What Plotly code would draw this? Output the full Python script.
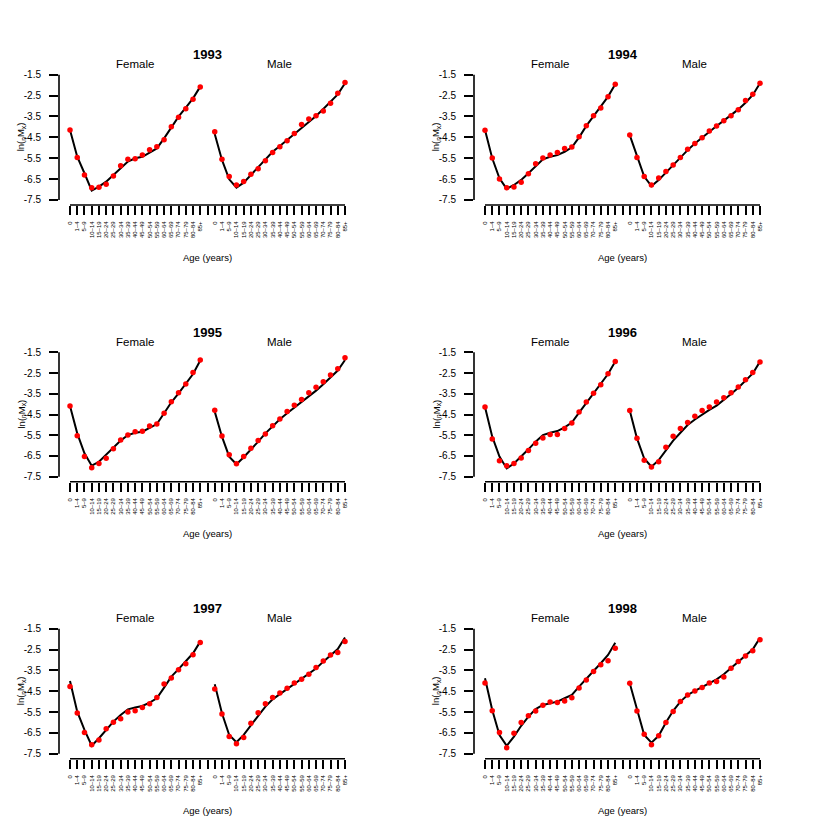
import plotly.graph_objects as go

ages = ["0", "1–4", "5–9", "10–14", "15–19", "20–24", "25–29", "30–34", "35–39",
        "40–44", "45–49", "50–54", "55–59", "60–64", "65–69", "70–74", "75–79",
        "80–84", "85+"]
years = ["1993", "1994", "1995", "1996", "1997", "1998"]
y_ticks = [-7.5, -6.5, -5.5, -4.5, -3.5, -2.5, -1.5]
y_ticklabels = ["-7.5", "-6.5", "-5.5", "-4.5", "-3.5", "-2.5", "-1.5"]

# observed (points) and fitted (line) log death rates
f1993_obs = [-4.15, -5.47, -6.30, -6.91, -6.89, -6.75, -6.35, -5.86, -5.55, -5.52, -5.35, -5.09, -4.95, -4.61, -3.99, -3.54, -3.13, -2.68, -2.09]
f1993_fit = [-4.15, -5.43, -6.22, -7.05, -6.86, -6.62, -6.30, -5.98, -5.66, -5.50, -5.43, -5.23, -5.03, -4.55, -4.02, -3.51, -3.08, -2.63, -2.07]
m1993_obs = [-4.23, -5.55, -6.38, -6.78, -6.62, -6.27, -6.00, -5.62, -5.22, -4.95, -4.66, -4.32, -3.88, -3.62, -3.46, -3.24, -2.87, -2.39, -1.87]
m1993_fit = [-4.34, -5.58, -6.51, -6.91, -6.67, -6.30, -5.94, -5.55, -5.19, -4.91, -4.63, -4.34, -4.05, -3.78, -3.48, -3.14, -2.79, -2.44, -1.91]

f1994_obs = [-4.16, -5.49, -6.49, -6.91, -6.88, -6.65, -6.24, -5.76, -5.49, -5.35, -5.23, -5.04, -4.96, -4.47, -3.94, -3.46, -3.10, -2.55, -1.96]
f1994_fit = [-4.15, -5.50, -6.46, -6.97, -6.78, -6.54, -6.22, -5.87, -5.55, -5.43, -5.35, -5.19, -4.98, -4.50, -3.95, -3.48, -3.03, -2.55, -1.96]
m1994_obs = [-4.39, -5.47, -6.38, -6.78, -6.45, -6.14, -5.82, -5.46, -5.07, -4.79, -4.52, -4.20, -3.96, -3.70, -3.46, -3.18, -2.74, -2.43, -1.91]
m1994_fit = [-4.39, -5.43, -6.38, -6.83, -6.54, -6.19, -5.82, -5.46, -5.11, -4.79, -4.50, -4.22, -3.96, -3.70, -3.45, -3.16, -2.84, -2.47, -1.91]

f1995_obs = [-4.09, -5.52, -6.53, -7.07, -6.86, -6.61, -6.15, -5.73, -5.49, -5.33, -5.31, -5.05, -4.96, -4.44, -3.88, -3.45, -3.03, -2.47, -1.87]
f1995_fit = [-4.09, -5.41, -6.37, -6.97, -6.78, -6.45, -6.13, -5.76, -5.49, -5.38, -5.33, -5.14, -4.96, -4.44, -3.91, -3.48, -3.03, -2.55, -1.90]
m1995_obs = [-4.30, -5.54, -6.44, -6.87, -6.53, -6.13, -5.75, -5.44, -5.04, -4.72, -4.36, -4.06, -3.78, -3.45, -3.19, -2.92, -2.59, -2.29, -1.76]
m1995_fit = [-4.36, -5.57, -6.53, -6.90, -6.56, -6.21, -5.81, -5.41, -5.06, -4.73, -4.44, -4.17, -3.91, -3.64, -3.35, -3.04, -2.72, -2.38, -1.87]

f1996_obs = [-4.14, -5.68, -6.73, -6.97, -6.86, -6.60, -6.23, -5.89, -5.63, -5.46, -5.46, -5.17, -4.91, -4.38, -3.90, -3.48, -3.06, -2.53, -1.95]
f1996_fit = [-4.14, -5.57, -6.53, -7.10, -6.86, -6.53, -6.18, -5.81, -5.49, -5.38, -5.30, -5.12, -4.89, -4.41, -3.93, -3.45, -3.03, -2.55, -1.95]
m1996_obs = [-4.31, -5.65, -6.71, -7.03, -6.78, -6.08, -5.55, -5.18, -4.88, -4.59, -4.31, -4.14, -3.90, -3.69, -3.45, -3.17, -2.82, -2.48, -1.97]
m1996_fit = [-4.31, -5.65, -6.62, -7.02, -6.70, -6.21, -5.76, -5.38, -5.01, -4.74, -4.49, -4.28, -4.07, -3.80, -3.51, -3.21, -2.87, -2.52, -1.95]

f1997_obs = [-4.28, -5.55, -6.48, -7.07, -6.84, -6.30, -5.99, -5.82, -5.50, -5.44, -5.28, -5.10, -4.80, -4.16, -3.87, -3.47, -3.18, -2.75, -2.16]
f1997_fit = [-4.01, -5.48, -6.36, -7.12, -6.76, -6.36, -5.96, -5.64, -5.37, -5.28, -5.21, -5.05, -4.84, -4.33, -3.80, -3.44, -3.08, -2.68, -2.12]
m1997_obs = [-4.40, -5.60, -6.67, -7.02, -6.72, -6.04, -5.53, -5.10, -4.80, -4.59, -4.36, -4.11, -3.93, -3.69, -3.36, -3.05, -2.76, -2.64, -2.12]
m1997_fit = [-4.17, -5.56, -6.60, -6.95, -6.60, -6.12, -5.68, -5.24, -4.89, -4.64, -4.40, -4.17, -3.93, -3.69, -3.41, -3.08, -2.80, -2.48, -1.92]

f1998_obs = [-4.11, -5.44, -6.48, -7.21, -6.52, -6.00, -5.68, -5.45, -5.18, -5.02, -5.04, -4.97, -4.81, -4.35, -3.96, -3.56, -3.23, -3.04, -2.44]
f1998_fit = [-3.88, -5.40, -6.60, -7.12, -6.68, -6.16, -5.72, -5.36, -5.16, -5.08, -5.00, -4.84, -4.68, -4.28, -3.93, -3.53, -3.16, -2.76, -2.17]
m1998_obs = [-4.12, -5.45, -6.57, -7.07, -6.64, -6.00, -5.47, -5.00, -4.68, -4.49, -4.32, -4.11, -4.04, -3.82, -3.40, -3.07, -2.81, -2.56, -2.03]
m1998_fit = [-4.12, -5.40, -6.60, -6.97, -6.64, -6.00, -5.44, -5.00, -4.68, -4.49, -4.30, -4.11, -3.93, -3.69, -3.40, -3.08, -2.81, -2.49, -1.94]

female_obs = [f1993_obs, f1994_obs, f1995_obs, f1996_obs, f1997_obs, f1998_obs]
female_fit = [f1993_fit, f1994_fit, f1995_fit, f1996_fit, f1997_fit, f1998_fit]
male_obs = [m1993_obs, m1994_obs, m1995_obs, m1996_obs, m1997_obs, m1998_obs]
male_fit = [m1993_fit, m1994_fit, m1995_fit, m1996_fit, m1997_fit, m1998_fit]

# ---- layout geometry (pixels in the screenshot; page body has an 8px margin) ----
OFF = 8
W = H = 830 - 2 * OFF
COL_X = [(59.0 - OFF, 356.0 - OFF), (474.0 - OFF, 771.0 - OFF)]
ROW_Y = [(69.7 - OFF, 205.0 - OFF), (347.3 - OFF, 481.7 - OFF), (623.7 - OFF, 758.7 - OFF)]
X_RANGE = [-0.52, 40.52]
Y_RANGE = [-7.74, -1.26]
FONT = "Liberation Sans, Arial, Helvetica, sans-serif"

n = len(ages)
fem_x = list(range(1, n + 1))
gap_x = n + 1
male_x = list(range(n + 2, 2 * n + 2))
tickvals = fem_x + male_x
ticktext = ages + ages

fig = go.Figure()
shapes = []
annotations = []
layout = {}

for i, yr in enumerate(years):
    r, c = divmod(i, 2)
    x0, x1 = COL_X[c]
    top, bot = ROW_Y[r]
    sfx = "" if i == 0 else str(i + 1)
    xa, ya = "x" + sfx, "y" + sfx
    xkey, ykey = "xaxis" + sfx, "yaxis" + sfx

    for xs, obs, fit in ((fem_x, female_obs[i], female_fit[i]), (male_x, male_obs[i], male_fit[i])):
        fig.add_trace(go.Scatter(x=xs, y=fit, mode="lines", xaxis=xa, yaxis=ya,
                                 line=dict(color="black", width=2), showlegend=False,
                                 hoverinfo="skip"))
        fig.add_trace(go.Scatter(x=xs, y=obs, mode="markers", xaxis=xa, yaxis=ya,
                                 marker=dict(color="#ff0000", size=5.5), showlegend=False,
                                 cliponaxis=False))

    layout[xkey] = dict(domain=[x0 / W, x1 / W], range=X_RANGE, anchor=ya,
                        tickmode="array", tickvals=tickvals, ticktext=ticktext,
                        ticks="outside", ticklen=9, tickwidth=1.6, tickcolor="black",
                        minor=dict(tickmode="array", tickvals=[gap_x], ticks="outside",
                                   ticklen=9, tickwidth=1.6, tickcolor="black", showgrid=False),
                        tickangle=-90, tickfont=dict(size=6, family=FONT, color="black"),
                        showline=False, showgrid=False, zeroline=False,
                        fixedrange=True, automargin=False, ticklabelstandoff=4)
    layout[ykey] = dict(domain=[1 - bot / H, 1 - top / H], range=Y_RANGE, anchor=xa,
                        tickmode="array", tickvals=y_ticks, ticktext=y_ticklabels,
                        ticks="outside", ticklen=9, tickwidth=1.6, tickcolor="black",
                        tickfont=dict(size=10, family=FONT, color="black"),
                        showline=False, showgrid=False, zeroline=False,
                        fixedrange=True, automargin=False, ticklabelstandoff=6)

    # R-style axis lines spanning first..last tick
    shapes.append(dict(type="line", xref=xa, yref=ya + " domain",
                       x0=fem_x[0], x1=male_x[-1], y0=0, y1=0,
                       line=dict(color="black", width=1.6)))
    shapes.append(dict(type="line", xref=xa + " domain", yref=ya,
                       x0=0, x1=0, y0=y_ticks[0], y1=y_ticks[-1],
                       line=dict(color="black", width=1.6)))

    xc_fem = (fem_x[0] + fem_x[-1]) / 2
    xc_male = (male_x[0] + male_x[-1]) / 2
    annotations.append(dict(text="<b>" + yr + "</b>", x=gap_x, xref=xa,
                            y=1 - (top - 15) / H, yref="paper", showarrow=False,
                            font=dict(size=13, family=FONT, color="black"),
                            xanchor="center", yanchor="middle"))
    annotations.append(dict(text="Female", x=xc_fem, xref=xa,
                            y=1 - (top - 5.3) / H, yref="paper", showarrow=False,
                            font=dict(size=11.5, family=FONT, color="black"),
                            xanchor="center", yanchor="middle"))
    annotations.append(dict(text="Male", x=xc_male, xref=xa,
                            y=1 - (top - 5.3) / H, yref="paper", showarrow=False,
                            font=dict(size=11.5, family=FONT, color="black"),
                            xanchor="center", yanchor="middle"))
    annotations.append(dict(text="Age (years)", x=gap_x, xref=xa,
                            y=1 - (bot + 52) / H, yref="paper", showarrow=False,
                            font=dict(size=9.5, family=FONT, color="black"),
                            xanchor="center", yanchor="middle"))
    annotations.append(dict(text="ln(<sub>n</sub>M<sub>x</sub>)", x=(x0 - 38) / W, xref="paper",
                            y=1 - ((top + bot) / 2) / H, yref="paper", showarrow=False,
                            textangle=-90,
                            font=dict(size=9.5, family=FONT, color="black"),
                            xanchor="center", yanchor="middle"))

fig.update_layout(width=W, height=H, margin=dict(l=0, r=0, t=0, b=0, autoexpand=False),
                  paper_bgcolor="white", plot_bgcolor="white",
                  shapes=shapes, annotations=annotations, showlegend=False,
                  font=dict(family=FONT, color="black"), **layout)

fig.write_html("out.html")
